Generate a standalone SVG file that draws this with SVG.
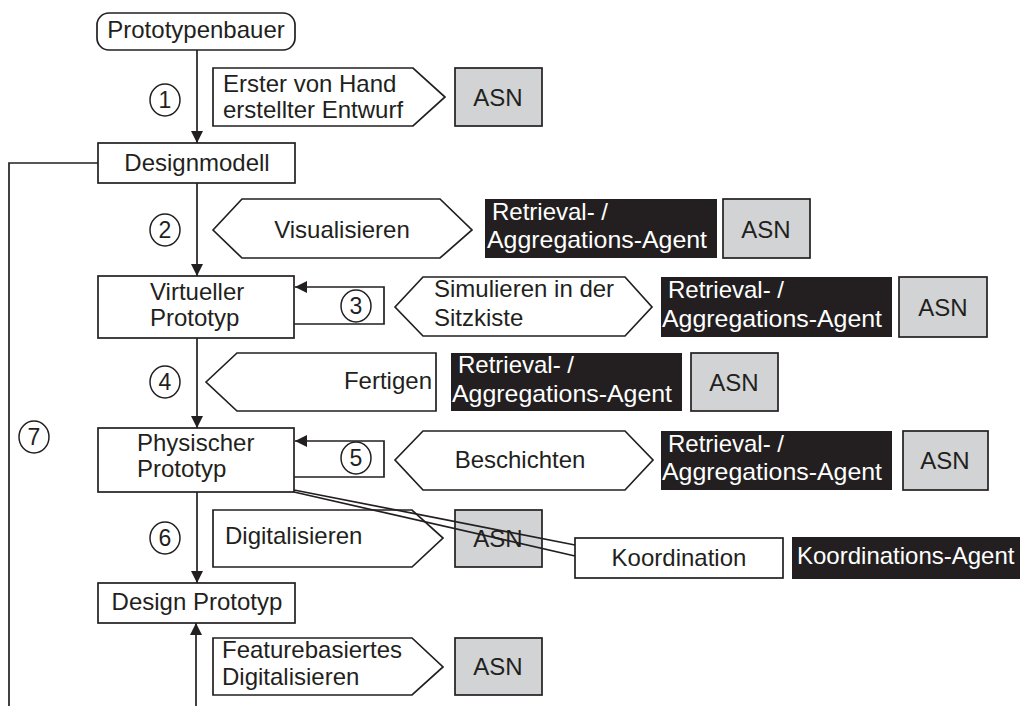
<svg xmlns="http://www.w3.org/2000/svg" width="1020" height="706" viewBox="0 0 1020 706">
  <style>
    text { font-family: "Liberation Sans", Arial, sans-serif; font-size: 24px; fill: #231f20; }
    .box { fill: #ffffff; stroke: #231f20; stroke-width: 1.7; }
    .asn { fill: #d1d3d4; stroke: #231f20; stroke-width: 1.7; }
    .agent { fill: #231f20; stroke: none; }
    .agent-text { fill: #ffffff; }
    .mid { text-anchor: middle; }
    .num { fill: #ffffff; stroke: #231f20; stroke-width: 1.5; }
    .num-text { font-size: 23px; text-anchor: middle; }
    .edge { fill: none; stroke: #231f20; stroke-width: 1.7; }
  </style>
  <defs>
    <marker id="arrow" markerUnits="userSpaceOnUse" markerWidth="12" markerHeight="12" refX="12" refY="6" orient="auto">
      <path d="M0,0 L12,6 L0,12 z" fill="#231f20"/>
    </marker>
  </defs>

  <rect width="1020" height="706" fill="#ffffff"/>

  <!-- main chain nodes -->
  <g id="prototypenbauer">
    <rect class="box" x="97" y="13" width="198" height="37" rx="12" ry="12"/>
    <text class="mid" x="196" y="38">Prototypenbauer</text>
  </g>
  <g id="designmodell">
    <rect class="box" x="98" y="143" width="197" height="40"/>
    <text class="mid" x="197" y="171">Designmodell</text>
  </g>
  <g id="virtueller-prototyp">
    <rect class="box" x="98" y="276" width="196" height="62"/>
    <text x="150" y="300">Virtueller</text>
    <text x="150" y="326">Prototyp</text>
  </g>
  <g id="physischer-prototyp">
    <rect class="box" x="98" y="428" width="196" height="64"/>
    <text x="137" y="451">Physischer</text>
    <text x="137" y="477">Prototyp</text>
  </g>
  <g id="design-prototyp">
    <rect class="box" x="98" y="583" width="197" height="40"/>
    <text class="mid" x="197" y="610">Design Prototyp</text>
  </g>

  <!-- step 1 -->
  <g id="step1-task">
    <polygon class="box" points="213,68 413,68 445,97 413,126 213,126"/>
    <text x="223" y="92">Erster von Hand</text>
    <text x="223" y="118">erstellter Entwurf</text>
  </g>
  <g id="step1-asn">
    <rect class="asn" x="455" y="68" width="87" height="58"/>
    <text class="mid" x="498" y="106">ASN</text>
  </g>

  <!-- step 2 -->
  <g id="step2-task">
    <polygon class="box" points="213,230 242,199 440,199 472,230 440,258 242,258"/>
    <text class="mid" x="342" y="238">Visualisieren</text>
  </g>
  <g id="step2-agent">
    <rect class="agent" x="485" y="199" width="232" height="59"/>
    <text class="agent-text" x="492" y="220">Retrieval- /</text>
    <text class="agent-text" x="487" y="248" textLength="220" lengthAdjust="spacingAndGlyphs">Aggregations-Agent</text>
  </g>
  <g id="step2-asn">
    <rect class="asn" x="723" y="199" width="87" height="59"/>
    <text class="mid" x="766" y="238">ASN</text>
  </g>

  <!-- step 3 -->
  <g id="step3-task">
    <polygon class="box" points="395,307 423,277 625,277 652,307 625,336 423,336"/>
    <text x="434" y="297">Simulieren in der</text>
    <text x="434" y="326">Sitzkiste</text>
  </g>
  <g id="step3-agent">
    <rect class="agent" x="661" y="277" width="231" height="60"/>
    <text class="agent-text" x="668" y="298">Retrieval- /</text>
    <text class="agent-text" x="662" y="327" textLength="220" lengthAdjust="spacingAndGlyphs">Aggregations-Agent</text>
  </g>
  <g id="step3-asn">
    <rect class="asn" x="899" y="277" width="88" height="60"/>
    <text class="mid" x="943" y="316">ASN</text>
  </g>

  <!-- step 4 -->
  <g id="step4-task">
    <polygon class="box" points="206,382 237,353 436,353 436,411 237,411"/>
    <text x="432" y="389" text-anchor="end">Fertigen</text>
  </g>
  <g id="step4-agent">
    <rect class="agent" x="451" y="353" width="231" height="58"/>
    <text class="agent-text" x="458" y="373">Retrieval- /</text>
    <text class="agent-text" x="452" y="402" textLength="220" lengthAdjust="spacingAndGlyphs">Aggregations-Agent</text>
  </g>
  <g id="step4-asn">
    <rect class="asn" x="691" y="353" width="87" height="58"/>
    <text class="mid" x="734" y="391">ASN</text>
  </g>

  <!-- step 5 -->
  <g id="step5-task">
    <polygon class="box" points="395,460 423,431 625,431 653,460 625,490 423,490"/>
    <text class="mid" x="520" y="468">Beschichten</text>
  </g>
  <g id="step5-agent">
    <rect class="agent" x="661" y="431" width="231" height="59"/>
    <text class="agent-text" x="668" y="452">Retrieval- /</text>
    <text class="agent-text" x="662" y="480" textLength="220" lengthAdjust="spacingAndGlyphs">Aggregations-Agent</text>
  </g>
  <g id="step5-asn">
    <rect class="asn" x="903" y="431" width="85" height="59"/>
    <text class="mid" x="945" y="469">ASN</text>
  </g>

  <!-- step 6 -->
  <g id="step6-task">
    <polygon class="box" points="213,510 412,510 443,538 412,567 213,567"/>
    <text x="225" y="544">Digitalisieren</text>
  </g>
  <g id="step6-asn">
    <rect class="asn" x="455" y="510" width="87" height="57"/>
    <text class="mid" x="498" y="547">ASN</text>
  </g>

  <!-- coordination -->
  <g id="koordination">
    <rect class="box" x="575" y="538" width="208" height="40"/>
    <text class="mid" x="679" y="566">Koordination</text>
  </g>
  <g id="koordinations-agent">
    <rect class="agent" x="792" y="537" width="228" height="42"/>
    <text class="agent-text" x="797" y="564">Koordinations-Agent</text>
  </g>

  <!-- feature-based digitising -->
  <g id="feature-task">
    <polygon class="box" points="213,638 412,638 443,667 412,695 213,695"/>
    <text x="222" y="658">Featurebasiertes</text>
    <text x="222" y="685">Digitalisieren</text>
  </g>
  <g id="feature-asn">
    <rect class="asn" x="455" y="638" width="87" height="57"/>
    <text class="mid" x="498" y="675">ASN</text>
  </g>

  <!-- step numbers -->
  <g id="step-numbers">
    <ellipse class="num" cx="165" cy="100" rx="15" ry="16"/>
    <text class="num-text" x="165" y="108">1</text>
    <ellipse class="num" cx="165" cy="230" rx="15" ry="16"/>
    <text class="num-text" x="165" y="238">2</text>
    <ellipse class="num" cx="356" cy="306" rx="15" ry="16"/>
    <text class="num-text" x="356" y="314">3</text>
    <ellipse class="num" cx="165" cy="382" rx="15" ry="16"/>
    <text class="num-text" x="165" y="390">4</text>
    <ellipse class="num" cx="356" cy="458" rx="15" ry="16"/>
    <text class="num-text" x="356" y="466">5</text>
    <ellipse class="num" cx="165" cy="538" rx="15" ry="16"/>
    <text class="num-text" x="165" y="546">6</text>
    <ellipse class="num" cx="34" cy="437" rx="15" ry="16"/>
    <text class="num-text" x="34" y="445">7</text>
  </g>

  <!-- connectors -->
  <g id="connectors">
    <line class="edge" x1="197" y1="50" x2="197" y2="143" marker-end="url(#arrow)"/>
    <line class="edge" x1="197" y1="183" x2="197" y2="276" marker-end="url(#arrow)"/>
    <line class="edge" x1="197" y1="338" x2="197" y2="428" marker-end="url(#arrow)"/>
    <line class="edge" x1="197" y1="492" x2="197" y2="583" marker-end="url(#arrow)"/>
    <line class="edge" x1="196" y1="706" x2="196" y2="623" marker-end="url(#arrow)"/>
    <polyline class="edge" points="294,324 384,324 384,287 295,287" marker-end="url(#arrow)"/>
    <polyline class="edge" points="294,477 384,477 384,441 295,441" marker-end="url(#arrow)"/>
    <polyline class="edge" points="98,163 9,163 9,706"/>
    <line class="edge" x1="294" y1="490" x2="575" y2="545"/>
    <line class="edge" x1="294" y1="492" x2="575" y2="556"/>
  </g>
</svg>
